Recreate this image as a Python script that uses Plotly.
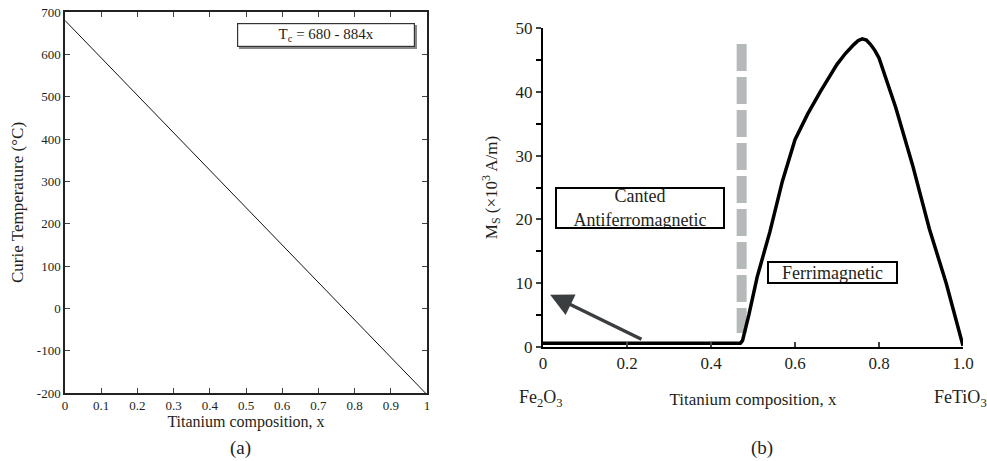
import plotly.graph_objects as go

W, H = 987, 461

# ---- data panel (a)
xa = [0.0, 1.0]
ta = [680, -204]
xa_ticks = [0, 0.1, 0.2, 0.3, 0.4, 0.5, 0.6, 0.7, 0.8, 0.9, 1]
xa_ticklabels = ["0", "0.1", "0.2", "0.3", "0.4", "0.5", "0.6", "0.7", "0.8", "0.9", "1"]
ya_ticks = [-200, -100, 0, 100, 200, 300, 400, 500, 600, 700]
ya_ticklabels = ["-200", "-100", "0", "100", "200", "300", "400", "500", "600", "700"]

# ---- data panel (b)
xb = [0.0, 0.47, 0.475, 0.49, 0.51, 0.54, 0.57, 0.60, 0.63, 0.66, 0.70, 0.72, 0.74, 0.75, 0.76,
      0.77, 0.78, 0.79, 0.80, 0.84, 0.88, 0.92, 0.96, 1.0]
mb = [0.6, 0.6, 1.0, 5.0, 11.0, 18.0, 26.0, 32.5, 36.5, 40.0, 44.3, 46.0, 47.4, 48.0, 48.3,
      48.1, 47.4, 46.5, 45.3, 37.5, 28.5, 18.5, 10.0, 0.2]
boundary_x = [0.473, 0.473]
boundary_y = [47.5, 2.2]
arrow_head = (0.017, 8.2)
arrow_tail = (0.238, 1.1)
xb_ticks = [0, 0.2, 0.4, 0.6, 0.8, 1.0]
xb_ticklabels = ["0", "0.2", "0.4", "0.6", "0.8", "1.0"]
yb_ticks = [0, 10, 20, 30, 40, 50]

SERIF = "Liberation Serif"
TXT = "#231f20"

def px(x):
    return x / W

def py(y):
    return 1 - y / H

def f(size):
    return dict(family=SERIF, size=size, color=TXT)

fig = go.Figure()
fig.add_trace(go.Scatter(x=xa, y=ta, mode="lines", line=dict(color="#111", width=1),
                         xaxis="x", yaxis="y", showlegend=False, hoverinfo="skip"))
fig.add_trace(go.Scatter(x=boundary_x, y=boundary_y, mode="lines",
                         line=dict(color="#b5b9b9", width=10, dash="27px,6px"),
                         xaxis="x2", yaxis="y2", showlegend=False, hoverinfo="skip"))
fig.add_trace(go.Scatter(x=xb, y=mb, mode="lines",
                         line=dict(color="#000", width=3.5, shape="linear"),
                         xaxis="x2", yaxis="y2", showlegend=False, hoverinfo="skip"))

fig.update_layout(
    width=W, height=H, margin=dict(l=0, r=0, t=0, b=0, autoexpand=False),
    paper_bgcolor="white", plot_bgcolor="white",
    font=f(14),
    xaxis=dict(domain=[px(65), px(427)], range=[0, 1], tickvals=xa_ticks, ticktext=xa_ticklabels,
               ticks="inside", ticklen=5, tickwidth=1, mirror="ticks", showline=True, linewidth=1.5,
               linecolor="#222", showgrid=False, zeroline=False, tickfont=f(13), automargin=False,
               title=dict(text="Titanium composition, x", font=f(16), standoff=0),
               anchor="y"),
    yaxis=dict(domain=[py(393), py(12)], range=[-200, 700], tickvals=ya_ticks, ticktext=ya_ticklabels,
               ticks="inside", ticklen=5, tickwidth=1, mirror="ticks", showline=True, linewidth=1.5,
               linecolor="#222", showgrid=False, zeroline=False, tickfont=f(13), automargin=False,
               title=dict(text="Curie Temperature (°C)", font=f(17), standoff=9),
               anchor="x"),
    xaxis2=dict(domain=[px(543), px(963)], range=[0, 1], tickvals=xb_ticks, ticktext=xb_ticklabels,
                ticks="inside", ticklen=5, tickwidth=1.5, showline=True, linewidth=2,
                linecolor="#000", showgrid=False, zeroline=False, tickfont=f(17), automargin=False,
                title=dict(text="Titanium composition, x", font=f(17), standoff=21),
                anchor="y2"),
    yaxis2=dict(domain=[py(347), py(28)], range=[0, 50], tickvals=yb_ticks,
                ticks="outside", ticklen=5, tickwidth=1.5, showline=True, linewidth=2,
                linecolor="#000", showgrid=False, zeroline=False, tickfont=f(17), automargin=False,
                minor=dict(dtick=5, ticks="outside", ticklen=5, tickwidth=1.5, tickcolor="#000"),
                title=dict(text="M<sub>S</sub> (×10<sup>3</sup> A/m)", font=f(17), standoff=14),
                anchor="x2"),
)

# shadow for the equation box
for (x0, y0, x1, y1) in [(237, 23, 415, 47)]:
    fig.add_shape(type="rect", xref="paper", yref="paper",
                  x0=px(x0 + 2), x1=px(x1 + 2), y0=py(y1 + 2), y1=py(y0 + 2),
                  line=dict(width=0), fillcolor="#888")

def box(cx, cy, w, h, text, size, bw=1.5, bc="#000"):
    fig.add_annotation(x=px(cx), y=py(cy), xref="paper", yref="paper", xanchor="center",
                       yanchor="middle", text=text, showarrow=False, width=w, height=h,
                       bgcolor="white", bordercolor=bc, borderwidth=bw, borderpad=0,
                       font=f(size))

box(326, 35, 176, 22, "T<sub>c</sub> = 680 - 884x", 15, bw=1.2, bc="#333")
box(639.5, 207.5, 166, 38, "Canted<br>Antiferromagnetic", 18, bw=2)
box(832, 272, 127, 19, "Ferrimagnetic", 18, bw=2)

# arrow
fig.add_annotation(x=arrow_head[0], y=arrow_head[1], ax=arrow_tail[0], ay=arrow_tail[1],
                   xref="x2", yref="y2", axref="x2", ayref="y2", text="", showarrow=True,
                   arrowhead=2, arrowsize=1.3, arrowwidth=3.5, arrowcolor="#3b3e40")

def label(cx, cy, text, size):
    fig.add_annotation(x=px(cx), y=py(cy), xref="paper", yref="paper", xanchor="center",
                       yanchor="middle", text=text, showarrow=False, font=f(size))

# composition end labels and panel letters
label(541, 398, "Fe<sub>2</sub>O<sub>3</sub>", 18)
label(960, 398, "FeTiO<sub>3</sub>", 18)
label(240, 448, "(a)", 19)
label(762, 448, "(b)", 19)

fig.write_html("out.html")
